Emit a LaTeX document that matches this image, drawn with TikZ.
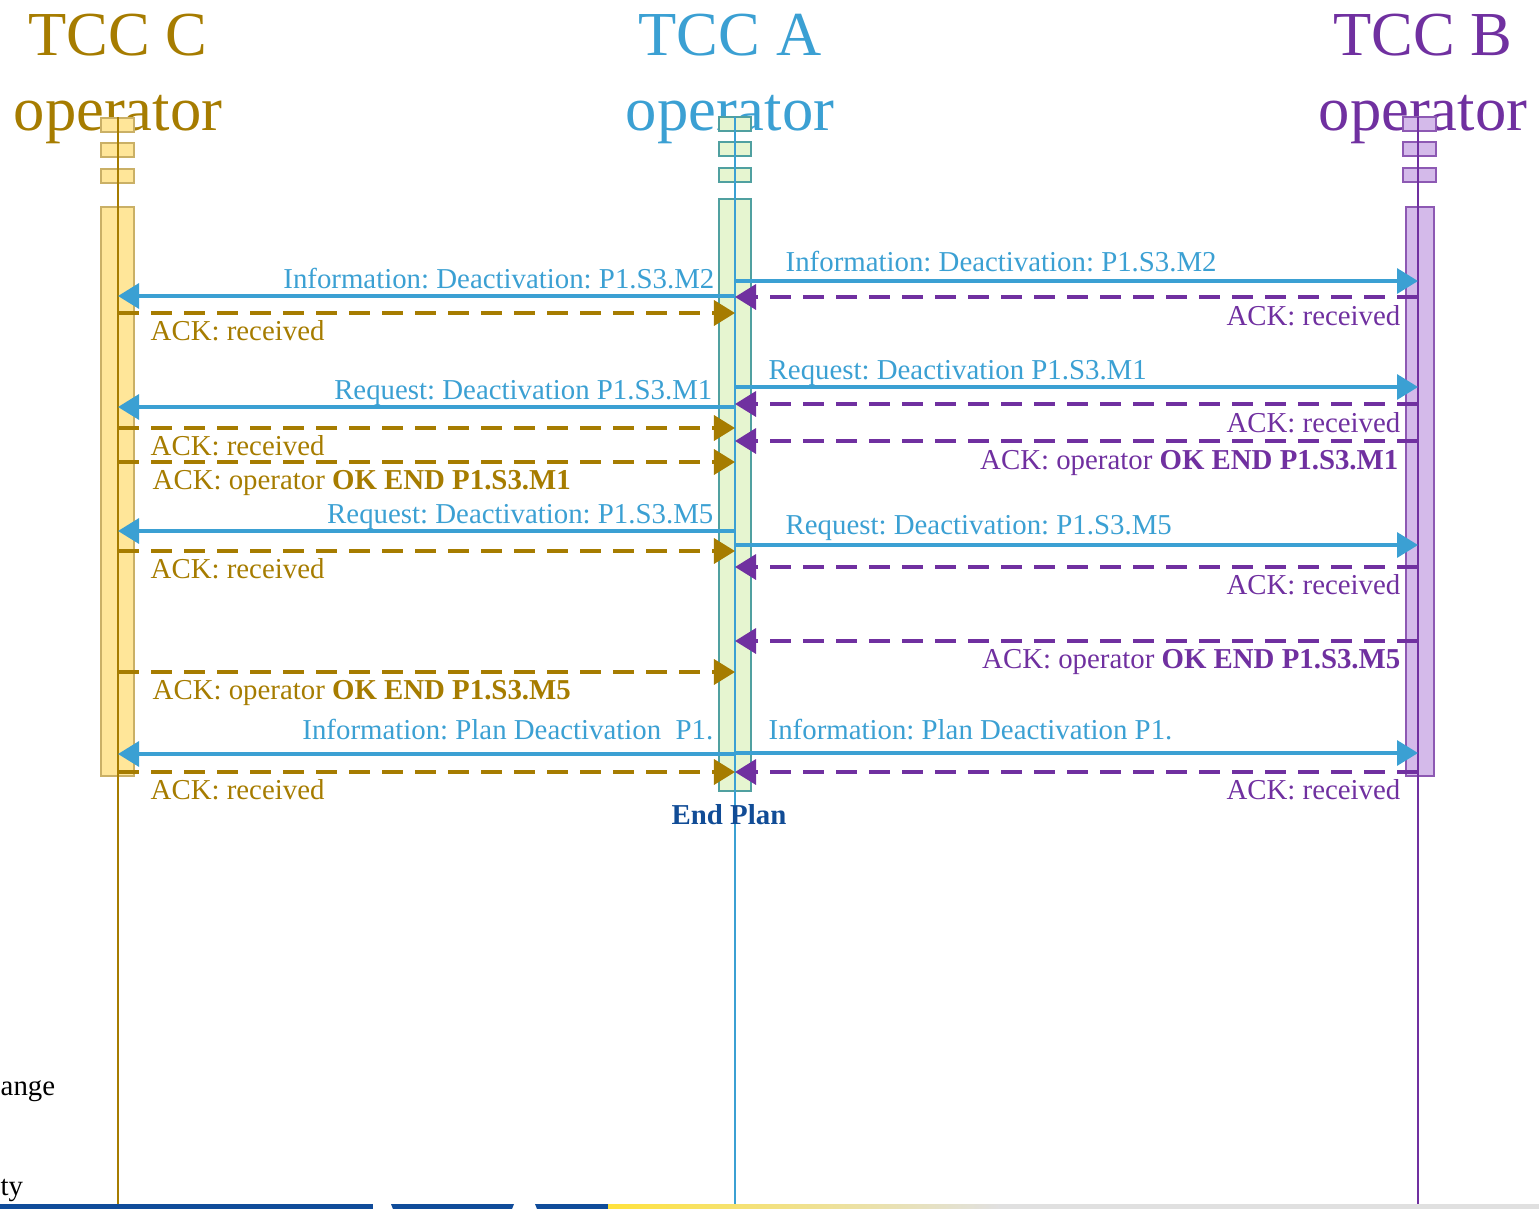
\documentclass[tikz,border=0pt]{standalone}
\usepackage{fontspec}
\setmainfont{Liberation Serif}
\usetikzlibrary{arrows.meta}
\frenchspacing
\definecolor{cgold}{RGB}{166,124,0}
\definecolor{ablue}{RGB}{59,160,211}
\definecolor{bpurple}{RGB}{112,48,160}
\definecolor{cfill}{RGB}{255,230,153}
\definecolor{afill}{RGB}{230,245,208}
\definecolor{bfill}{RGB}{212,186,234}
\definecolor{aedge}{RGB}{80,160,160}
\definecolor{endblue}{RGB}{17,76,150}
\definecolor{barblue}{RGB}{16,76,154}
\definecolor{baryellow}{RGB}{255,226,60}
\tikzset{
	head/.style={font=\fontsize{17.8}{21}\selectfont,align=center,text=#1},
	lbl/.style={font=\fontsize{8.2}{10}\selectfont,text=#1,inner sep=0pt},
	cbox/.style={fill=cfill,draw=cgold!60,line width=0.3pt},
	abox/.style={fill=afill,draw=aedge,line width=0.3pt},
	bbox/.style={fill=bfill,draw=bpurple!80,line width=0.3pt},
	msg/.style={ablue,line width=0.95pt,-{Triangle[length=0.21cm,width=0.25cm]}},
	ack/.style={#1,line width=1pt,dash pattern=on 0.21cm off 0.12cm,-{Triangle[length=0.21cm,width=0.25cm]}}
}
\begin{document}
\begin{tikzpicture}[x=0.01cm,y=-0.01cm]
	\useasboundingbox (0,0) rectangle (1539,1209);

	% heads
	\node [head=cgold,anchor=base] (c) at (118,55) {TCC C};
	\node [head=cgold,anchor=base] (co) at (118,130) {operator};
	\node [head=ablue,anchor=base] (a) at (730,55) {TCC A};
	\node [head=ablue,anchor=base] (ao) at (730,130) {operator};
	\node [head=bpurple,anchor=base] (b) at (1423,55) {TCC B};
	\node [head=bpurple,anchor=base] (bo) at (1423,130) {operator};

	% activation boxes
	\foreach \y in {118,143,169} \draw [cbox] (101,\y) rectangle (134,\y+14);
	\foreach \y in {117,142,168} \draw [abox] (719,\y) rectangle (751,\y+14);
	\foreach \y in {117,142,168} \draw [bbox] (1403,\y) rectangle (1436,\y+14);
	\draw [cbox] (101,207) rectangle (134,776);
	\draw [abox] (719,199) rectangle (751,791);
	\draw [bbox] (1406,207) rectangle (1434,776);

	% lifelines
	\coordinate (C) at (118,117);
	\coordinate (A) at (735,117);
	\coordinate (B) at (1418,117);
	\coordinate (bottom) at (0,1209);
	\draw [cgold,line width=0.5pt] (C) -- (C |- bottom);
	\draw [ablue,line width=0.5pt] (A) -- (A |- bottom);
	\draw [bpurple,line width=0.5pt] (B) -- (B |- bottom);

	% message rows
	\foreach \n/\y in {r1/296,r2/281,r3/313,r4/297,r5/407,r6/387,r7/428,r8/462,r9/404,r10/441,
		r11/531,r12/545,r13/551,r14/567,r15/641,r16/672,r17/754,r18/753,r19/772}
		\coordinate (\n) at (0,\y);

	% deactivation P1.S3.M2
	\draw [msg] (A |- r1) -- (C |- r1);
	\node [lbl=ablue,anchor=base east] at (715,288) {Information: Deactivation: P1.S3.M2};
	\draw [msg] (A |- r2) -- (B |- r2);
	\node [lbl=ablue,anchor=base west] at (785,271) {Information: Deactivation: P1.S3.M2};
	\draw [ack=cgold] (C |- r3) -- (A |- r3);
	\node [lbl=cgold,anchor=base west] at (150,340) {ACK: received};
	\draw [ack=bpurple] (B |- r4) -- (A |- r4);
	\node [lbl=bpurple,anchor=base east] at (1401,325) {ACK: received};

	% deactivation P1.S3.M1
	\draw [msg] (A |- r5) -- (C |- r5);
	\node [lbl=ablue,anchor=base east] at (713,399) {Request: Deactivation P1.S3.M1};
	\draw [msg] (A |- r6) -- (B |- r6);
	\node [lbl=ablue,anchor=base west] at (768,379) {Request: Deactivation P1.S3.M1};
	\draw [ack=cgold] (C |- r7) -- (A |- r7);
	\node [lbl=cgold,anchor=base west] at (150,455) {ACK: received};
	\draw [ack=cgold] (C |- r8) -- (A |- r8);
	\node [lbl=cgold,anchor=base west] at (152,489) {ACK: operator \textbf{OK END P1.S3.M1}};
	\draw [ack=bpurple] (B |- r9) -- (A |- r9);
	\node [lbl=bpurple,anchor=base east] at (1401,432) {ACK: received};
	\draw [ack=bpurple] (B |- r10) -- (A |- r10);
	\node [lbl=bpurple,anchor=base east] at (1399,469) {ACK: operator \textbf{OK END P1.S3.M1}};

	% deactivation P1.S3.M5
	\draw [msg] (A |- r11) -- (C |- r11);
	\node [lbl=ablue,anchor=base east] at (714,523) {Request: Deactivation: P1.S3.M5};
	\draw [msg] (A |- r12) -- (B |- r12);
	\node [lbl=ablue,anchor=base west] at (785,534) {Request: Deactivation: P1.S3.M5};
	\draw [ack=cgold] (C |- r13) -- (A |- r13);
	\node [lbl=cgold,anchor=base west] at (150,578) {ACK: received};
	\draw [ack=bpurple] (B |- r14) -- (A |- r14);
	\node [lbl=bpurple,anchor=base east] at (1401,594) {ACK: received};
	\draw [ack=bpurple] (B |- r15) -- (A |- r15);
	\node [lbl=bpurple,anchor=base east] at (1401,668) {ACK: operator \textbf{OK END P1.S3.M5}};
	\draw [ack=cgold] (C |- r16) -- (A |- r16);
	\node [lbl=cgold,anchor=base west] at (152,699) {ACK: operator \textbf{OK END P1.S3.M5}};

	% plan deactivation
	\draw [msg] (A |- r17) -- (C |- r17);
	\node [lbl=ablue,anchor=base east] at (714,739) {Information: Plan Deactivation\ \ P1.};
	\draw [msg] (A |- r18) -- (B |- r18);
	\node [lbl=ablue,anchor=base west] at (768,739) {Information: Plan Deactivation P1.};
	\draw [ack=cgold] (C |- r19) -- (A |- r19);
	\node [lbl=cgold,anchor=base west] at (150,799) {ACK: received};
	\draw [ack=bpurple] (B |- r19) -- (A |- r19);
	\node [lbl=bpurple,anchor=base east] at (1401,799) {ACK: received};
	\node [lbl=endblue,anchor=base,font=\fontsize{8.2}{10}\selectfont\bfseries] (end) at (729,824) {End Plan};

	% cut-off slide text and footer bar
	\node [lbl=black,anchor=base west] (t1) at (0,1095) {ange};
	\node [lbl=black,anchor=base west] (t2) at (0,1195) {ty};
	\fill [barblue] (0,1204) rectangle (373,1209);
	\fill [barblue] (391,1204) -- (514,1204) -- (512,1209) -- (393,1209) -- cycle;
	\fill [barblue] (535,1204) -- (608,1204) -- (608,1209) -- (537,1209) -- cycle;
	\shade [left color=baryellow,right color=black!12] (608,1204) rectangle (1000,1209);
	\fill [black!12] (1000,1204) rectangle (1539,1209);
\end{tikzpicture}
\end{document}
